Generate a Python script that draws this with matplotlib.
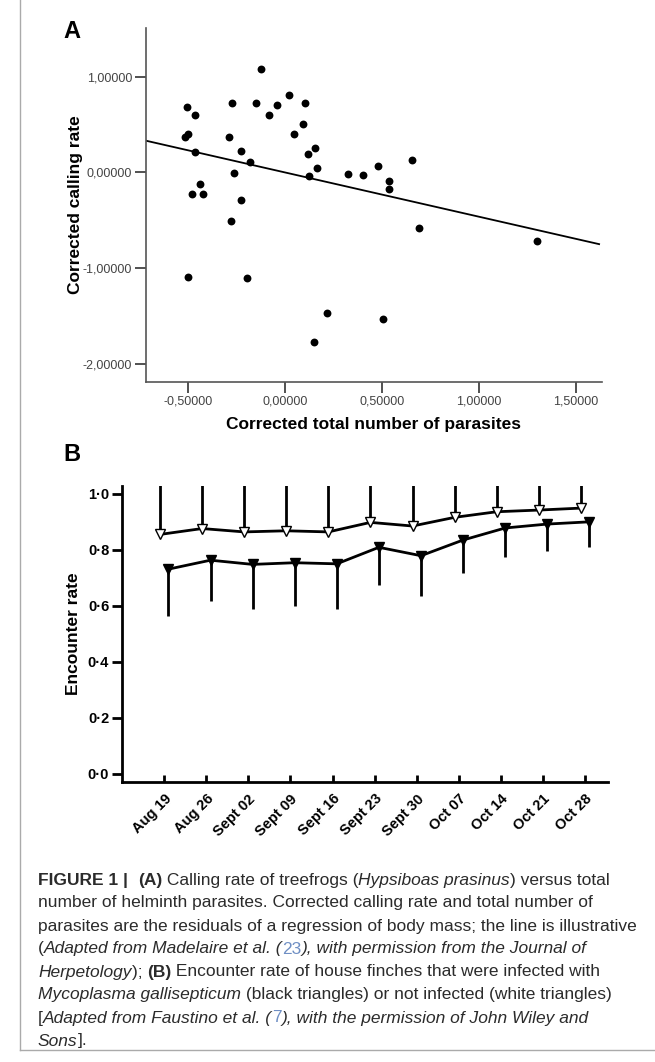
import matplotlib
matplotlib.use("Agg")
import matplotlib.pyplot as plt
import numpy as np
from matplotlib.ticker import FixedLocator, FuncFormatter

plt.rcParams["font.family"] = ["Liberation Sans", "DejaVu Sans"]

# ---------------- Panel A data: residual calling rate vs residual parasite load
parasites = [-0.504, -0.465, -0.517, -0.498, -0.465, -0.437, -0.481, -0.421,
             -0.273, -0.287, -0.227, -0.264, -0.227, -0.180, -0.122, -0.151,
             -0.084, -0.040, 0.021, 0.105, 0.045, 0.094, 0.156, 0.119,
             0.165, 0.125, 0.323, 0.404, 0.479, 0.536, 0.536, 0.656,
             0.689, 1.299, 0.507, -0.280, -0.498, -0.196, 0.218, 0.148]
calling = [0.687, 0.603, 0.373, 0.401, 0.216, -0.126, -0.230, -0.227,
           0.726, 0.370, 0.223, -0.010, -0.293, 0.108, 1.082, 0.726,
           0.597, 0.705, 0.813, 0.722, 0.398, 0.503, 0.251, 0.188,
           0.045, -0.042, -0.015, -0.025, 0.063, -0.091, -0.178, 0.126,
           -0.583, -0.723, -1.529, -0.507, -1.096, -1.103, -1.473, -1.777]
line_x = [-0.716, 1.619]
line_y = [0.331, -0.751]
a_yticks = [-2.0, -1.0, 0.0, 1.0]
a_xticks = [-0.5, 0.0, 0.5, 1.0, 1.5]

# ---------------- Panel B data: encounter rate over time
dates = ["Aug 19", "Aug 26", "Sept 02", "Sept 09", "Sept 16", "Sept 23",
         "Sept 30", "Oct 07", "Oct 14", "Oct 21", "Oct 28"]
not_infected = [0.855, 0.876, 0.864, 0.868, 0.864, 0.898, 0.885, 0.916,
                0.936, 0.942, 0.949]
not_infected_err = [0.20, 0.19, 0.20, 0.20, 0.20, 0.17, 0.18, 0.15, 0.13,
                    0.12, 0.11]
infected = [0.731, 0.763, 0.748, 0.754, 0.750, 0.809, 0.779, 0.835, 0.878,
            0.892, 0.900]
infected_err = [0.168, 0.145, 0.161, 0.155, 0.161, 0.133, 0.144, 0.117,
                0.104, 0.097, 0.091]
b_yticks = [0.0, 0.2, 0.4, 0.6, 0.8, 1.0]

W, H = 655, 1062
fig = plt.figure(figsize=(W / 100, H / 100), dpi=100)


def frac(x0, y0, x1, y1):
    return [x0 / W, 1 - y1 / H, (x1 - x0) / W, (y1 - y0) / H]


# ---------------- Panel A
axA = fig.add_axes(frac(146, 28, 602, 381.7))
grey = "#555555"
axA.scatter(parasites, calling, s=32, color="black", zorder=3, linewidths=0)
axA.plot(line_x, line_y, color="black", lw=1.3)
axA.set_xlim(-0.716, 1.634)
axA.set_ylim(-2.19, 1.51)
axA.xaxis.set_major_locator(FixedLocator(a_xticks))
axA.yaxis.set_major_locator(FixedLocator(a_yticks))
fmtA = FuncFormatter(lambda v, p: f"{v:.5f}".replace(".", ","))
axA.xaxis.set_major_formatter(fmtA)
axA.yaxis.set_major_formatter(fmtA)
for s in ["top", "right"]:
    axA.spines[s].set_visible(False)
for s in ["left", "bottom"]:
    axA.spines[s].set_color(grey)
    axA.spines[s].set_linewidth(1.2)
axA.tick_params(direction="out", length=8, width=1.2, color="#333333",
                labelsize=9, labelcolor="#444444", pad=2)
axA.set_xlabel("Corrected total number of parasites", fontsize=12.5,
               fontweight="bold", labelpad=7)
axA.set_ylabel("Corrected calling rate", fontsize=12.5, fontweight="bold",
               labelpad=0)
fig.text(72 / W, 1 - 31 / H, "A", fontsize=17, fontweight="bold",
         ha="center", va="center")

# ---------------- Panel B
axB = fig.add_axes(frac(121.7, 485.7, 608.3, 782))
idx = np.arange(len(dates))
dx = 0.1
axB.errorbar(idx - dx, not_infected,
             yerr=[np.zeros(len(idx)), not_infected_err], color="black",
             lw=2, elinewidth=2, capsize=0, marker="v", markersize=7.5,
             markerfacecolor="white", markeredgecolor="black",
             markeredgewidth=1.0, zorder=3)
axB.errorbar(idx + dx, infected,
             yerr=[infected_err, np.zeros(len(idx))], color="black",
             lw=2, elinewidth=2, capsize=0, marker="v", markersize=7.5,
             markerfacecolor="black", markeredgecolor="black", zorder=3)
axB.set_xlim(-1.01, 10.55)
axB.set_ylim(-0.029, 1.029)
axB.set_xticks(idx)
axB.set_xticklabels(dates, rotation=45, ha="right", rotation_mode="anchor",
                    fontsize=10.5, fontweight="bold")
axB.yaxis.set_major_locator(FixedLocator(b_yticks))
axB.yaxis.set_major_formatter(
    FuncFormatter(lambda v, p: f"{v:.1f}".replace(".", "\u00b7")))
for s in ["top", "right"]:
    axB.spines[s].set_visible(False)
for s in ["left", "bottom"]:
    axB.spines[s].set_linewidth(2)
axB.tick_params(axis="y", direction="out", length=7, width=2, labelsize=10.5,
                pad=2)
for t in axB.get_yticklabels():
    t.set_fontweight("bold")
axB.tick_params(axis="x", direction="in", length=5, width=2, pad=7)
axB.set_ylabel("Encounter rate", fontsize=12.5, fontweight="bold",
               labelpad=5)
fig.text(72 / W, 1 - 455 / H, "B", fontsize=17, fontweight="bold",
         ha="center", va="center")

# ---------------- Frame around figure and caption
fig.add_artist(plt.Line2D([20 / W, 20 / W], [1.0, 1 - 1050 / H],
                          transform=fig.transFigure, color="#aaaaaa", lw=1))
fig.add_artist(plt.Line2D([20 / W, 1.0], [1 - 1050 / H, 1 - 1050 / H],
                          transform=fig.transFigure, color="#aaaaaa", lw=1))

N, B, I, C = "normal", "bold", "italic", "cite"
caption = [
    [("FIGURE 1 |  ", B), ("(A)", B), (" Calling rate of treefrogs (", N),
     ("Hypsiboas prasinus", I), (") versus total", N)],
    [("number of helminth parasites. Corrected calling rate and total number of", N)],
    [("parasites are the residuals of a regression of body mass; the line is illustrative", N)],
    [("(", N), ("Adapted from Madelaire et al. (", I), ("23", C),
     ("), with permission from the Journal of", I)],
    [("Herpetology", I), ("); ", N), ("(B)", B),
     (" Encounter rate of house finches that were infected with", N)],
    [("Mycoplasma gallisepticum", I),
     (" (black triangles) or not infected (white triangles)", N)],
    [("[", N), ("Adapted from Faustino et al. (", I), ("7", C),
     ("), with the permission of John Wiley and", I)],
    [("Sons", I), ("].", N)],
]

renderer = fig.canvas.get_renderer()
txt_col = "#2b2b2b"


def style(kind, size):
    d = dict(fontsize=size, color=txt_col)
    if kind == B:
        d["fontweight"] = "bold"
    elif kind == I:
        d["fontstyle"] = "italic"
    elif kind == C:
        d["color"] = "#6f8fc4"
    return d


# size the caption so its widest line spans the text block
probe = fig.text(0, 0, caption[2][0][0], **style(N, 10))
wpx = probe.get_window_extent(renderer).width
probe.remove()
cap_size = 10 * 600 / wpx

x_left, y_first, line_h = 38, 880, 23.0
for k, line in enumerate(caption):
    x = x_left
    y = 1 - (y_first + k * line_h) / H
    for seg, kind in line:
        t = fig.text(x / W, y, seg, va="center", ha="left",
                     **style(kind, cap_size))
        x += t.get_window_extent(renderer).width

fig.savefig("out.png", dpi=100)
